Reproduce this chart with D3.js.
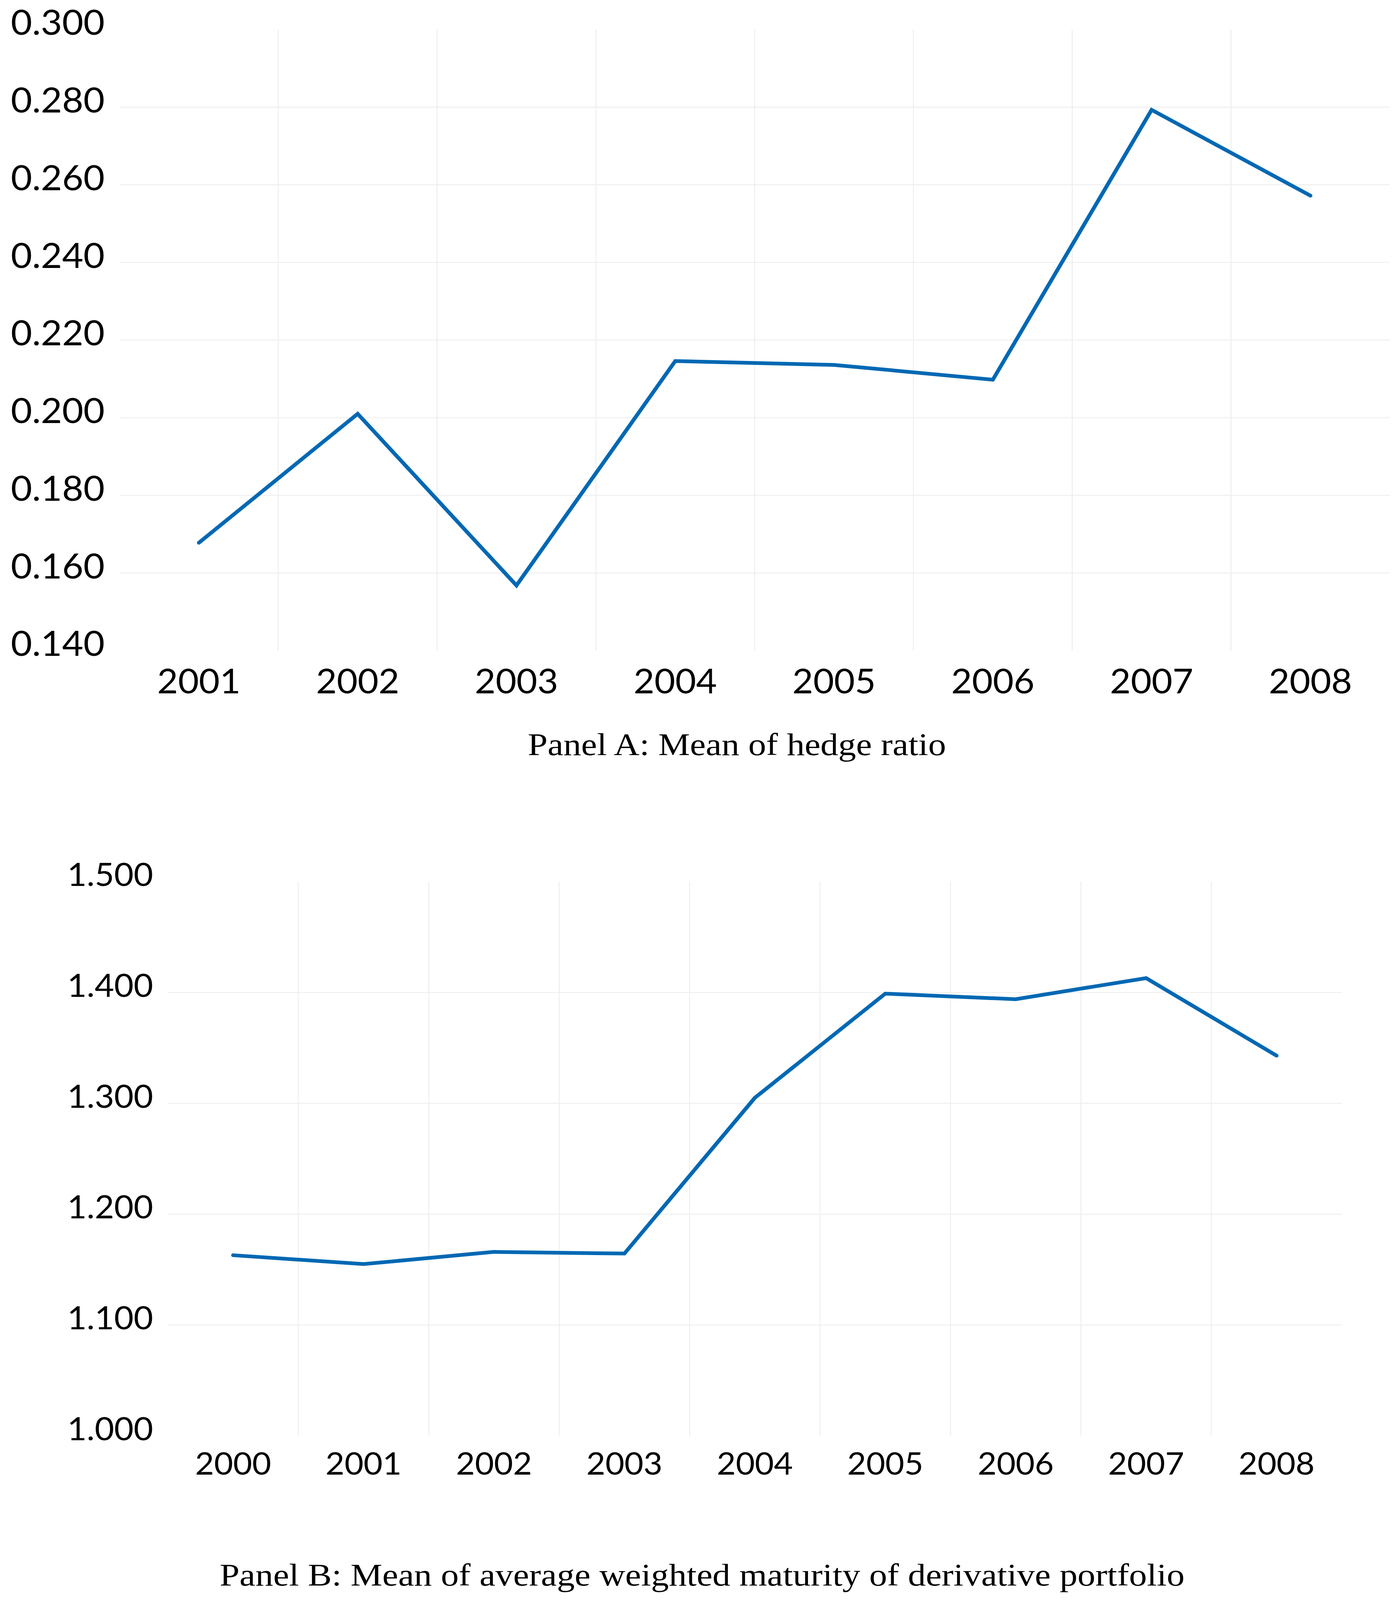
<!DOCTYPE html>
<html>
<head>
<meta charset="utf-8">
<script src="https://cdn.jsdelivr.net/npm/d3@7"></script>
<style>
  html, body { margin: 0; padding: 0; background: #ffffff; width: 100%; height: 100%; overflow: hidden; }
  svg { display: block; width: 100vw; height: 100vh; }
</style>
</head>
<body>
<svg id="chart" viewBox="0 0 3580 4319" preserveAspectRatio="none"></svg>
<script>
// ---------- Data ----------
const yearsA = ["2001", "2002", "2003", "2004", "2005", "2006", "2007", "2008"];
const hedgeRatio = [0.1678, 0.2010, 0.1568, 0.2146, 0.2136, 0.2098, 0.2793, 0.2572];
const ticksA = [0.14, 0.16, 0.18, 0.20, 0.22, 0.24, 0.26, 0.28, 0.30];
const titleA = "Panel A: Mean of hedge ratio";

const yearsB = ["2000", "2001", "2002", "2003", "2004", "2005", "2006", "2007", "2008"];
const maturity = [1.163, 1.155, 1.166, 1.1645, 1.305, 1.399, 1.394, 1.413, 1.343];
const ticksB = [1.0, 1.1, 1.2, 1.3, 1.4, 1.5];
const titleB = "Panel B: Mean of average weighted maturity of derivative portfolio";

// ---------- Style ----------
const LINE_COLOR = "#0068b3";
const GRID_COLOR = "#eeeeee";
const SANS = "Lato, 'Open Sans', sans-serif";
const SERIF = "'Liberation Serif', 'DejaVu Serif', serif";

const svg = d3.select("#chart");
svg.append("rect").attr("width", 3580).attr("height", 4319).attr("fill", "#fff");

function panel(cfg) {
  const x = d3.scaleBand().domain(cfg.years).range([cfg.left, cfg.right]).padding(0);
  const y = d3.scaleLinear().domain(cfg.domain).range([cfg.bottom, cfg.top]);
  const g = svg.append("g");

  // horizontal gridlines (interior ticks only)
  const interior = cfg.ticks.slice(1, -1);
  g.append("g").selectAll("line").data(interior).join("line")
    .attr("x1", cfg.left).attr("x2", cfg.right)
    .attr("y1", d => y(d)).attr("y2", d => y(d))
    .attr("stroke", GRID_COLOR).attr("stroke-width", 2.5);

  // vertical gridlines at category boundaries (interior)
  g.append("g").selectAll("line").data(cfg.years.slice(1)).join("line")
    .attr("x1", d => x(d)).attr("x2", d => x(d))
    .attr("y1", cfg.top).attr("y2", cfg.bottom)
    .attr("stroke", GRID_COLOR).attr("stroke-width", 2.5);

  // y axis labels
  const yAxis = d3.axisLeft(y).tickValues(cfg.ticks).tickFormat(d3.format(".3f"))
    .tickSize(0).tickPadding(cfg.yPad);
  const ya = g.append("g").attr("transform", `translate(${cfg.left},0)`).call(yAxis);
  ya.select(".domain").remove();
  ya.selectAll("text")
    .attr("font-family", SANS).attr("font-size", cfg.yFont).attr("fill", "#000")
    .attr("dy", null).attr("y", cfg.yDy);

  // x axis labels
  const xAxis = d3.axisBottom(x).tickSize(0).tickPadding(0);
  const xa = g.append("g").attr("transform", `translate(0,${cfg.xBase})`).call(xAxis);
  xa.select(".domain").remove();
  xa.selectAll("text")
    .attr("font-family", SANS).attr("font-size", cfg.xFont).attr("fill", "#000")
    .attr("dy", null).attr("y", 0);

  // line
  const line = d3.line()
    .x((d, i) => x(cfg.years[i]) + x.bandwidth() / 2)
    .y(d => y(d));
  g.append("path").datum(cfg.values)
    .attr("d", line)
    .attr("fill", "none")
    .attr("stroke", LINE_COLOR)
    .attr("stroke-width", 10)
    .attr("stroke-linejoin", "miter")
    .attr("stroke-linecap", "round");

  // title
  g.append("text")
    .attr("x", cfg.titleX).attr("y", cfg.titleY)
    .attr("text-anchor", "middle")
    .attr("font-family", SERIF).attr("font-size", cfg.titleFont)
    .attr("textLength", cfg.titleLen).attr("lengthAdjust", "spacingAndGlyphs")
    .attr("fill", "#000")
    .text(cfg.title);
}

panel({
  years: yearsA, values: hedgeRatio, ticks: ticksA, domain: [0.14, 0.30],
  left: 306, right: 3559, top: 79.6, bottom: 1756.4,
  yPad: 38, yFont: 94, yDy: 14,
  xBase: 1872, xFont: 92,
  title: titleA, titleX: 1887, titleY: 2038, titleFont: 84, titleLen: 1071
});

panel({
  years: yearsB, values: maturity, ticks: ticksB, domain: [1.0, 1.5],
  left: 430, right: 3436, top: 2380, bottom: 3876,
  yPad: 38, yFont: 86, yDy: 11,
  xBase: 3981, xFont: 84,
  title: titleB, titleX: 1798, titleY: 4280, titleFont: 84, titleLen: 2471
});
</script>
</body>
</html>
